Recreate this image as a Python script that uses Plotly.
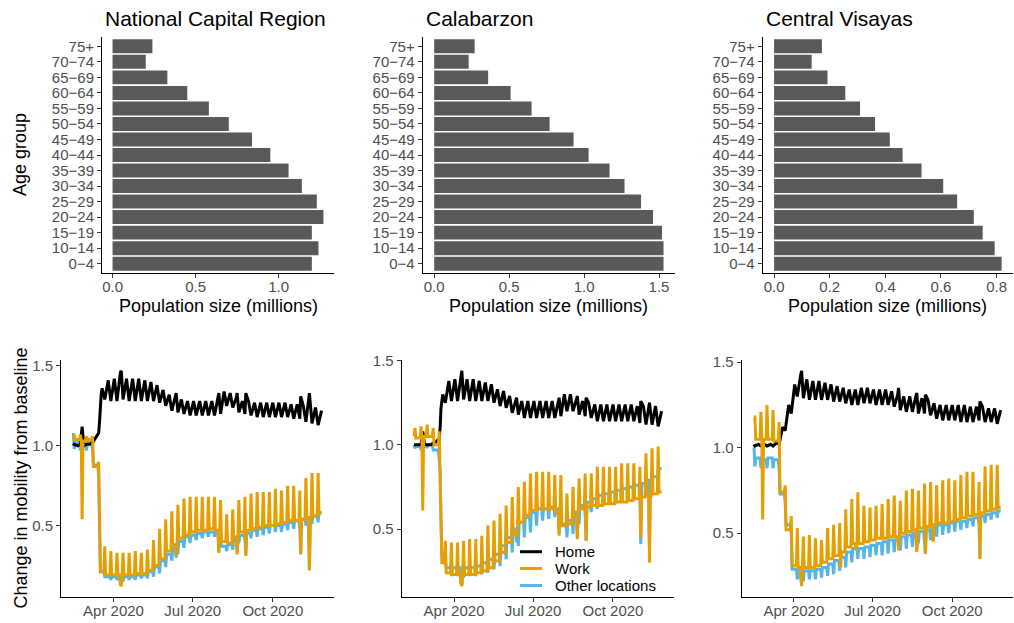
import pandas as pd
import plotly.graph_objects as go

# ---------------- population data (millions) ----------------
age_groups = ["0\u22124", "10\u221214", "15\u221219", "20\u221224", "25\u221229", "30\u221234",
              "35\u221239", "40\u221244", "45\u221249", "50\u221254", "55\u221259", "60\u221264",
              "65\u221269", "70\u221274", "75+"]
pop_ncr = [1.20, 1.24, 1.20, 1.27, 1.23, 1.14, 1.06, 0.95, 0.84, 0.70, 0.58, 0.45, 0.33, 0.20, 0.24]
pop_calabarzon = [1.53, 1.53, 1.52, 1.46, 1.38, 1.27, 1.17, 1.03, 0.93, 0.77, 0.65, 0.51, 0.36, 0.23, 0.27]
pop_cv = [0.818, 0.793, 0.750, 0.718, 0.658, 0.608, 0.530, 0.462, 0.416, 0.363, 0.309, 0.256, 0.192, 0.135, 0.172]

# ---------------- mobility data ----------------
# weekly levels: *_wd = weekday level of week k (week ending on Sunday k),
# *_sun = value on Sunday k; Sundays start 2020-02-16. Specials = single-day values.
first_sunday = "2020-02-16"
start_date = "2020-02-15"
end_date = "2020-11-26"

ncr_home_wd = [1.00,1.00,1.00,1.01,1.05,1.36,1.41,1.42,1.43,1.42,1.42,1.42,1.41,1.40,1.38,1.35,1.32,1.30,1.29,1.28,1.28,
               1.28,1.28,1.28,1.29,1.34,1.33,1.30,1.28,1.28,1.27,1.27,1.27,1.27,1.27,1.27,1.26,1.26,1.25,1.25,1.24,1.22]
ncr_home_sun = [1.01,1.01,1.01,1.02,1.08,1.29,1.28,1.28,1.29,1.28,1.28,1.28,1.28,1.28,1.27,1.25,1.22,1.21,1.20,1.19,1.19,
                1.19,1.19,1.19,1.20,1.25,1.24,1.21,1.20,1.19,1.18,1.18,1.18,1.18,1.18,1.18,1.17,1.17,1.15,1.14,1.13]
ncr_home_special = {"2020-02-25": 1.12, "2020-03-16": 1.15, "2020-03-17": 1.26, "2020-03-18": 1.33,
                    "2020-04-09": 1.46, "2020-04-10": 1.47, "2020-06-12": 1.33, "2020-07-31": 1.33,
                    "2020-08-21": 1.33, "2020-08-31": 1.33, "2020-11-02": 1.31, "2020-11-12": 1.33}
ncr_work_wd = [1.04,1.04,1.03,1.04,0.87,0.21,0.19,0.19,0.19,0.19,0.19,0.20,0.20,0.22,0.25,0.29,0.34,0.38,0.42,0.44,0.46,
               0.47,0.47,0.48,0.47,0.40,0.39,0.43,0.46,0.47,0.48,0.49,0.50,0.50,0.51,0.52,0.53,0.53,0.54,0.55,0.56,0.58]
ncr_work_sun = [1.07,1.07,1.06,1.06,0.90,0.37,0.34,0.33,0.33,0.33,0.34,0.33,0.35,0.41,0.48,0.54,0.59,0.63,0.67,0.68,0.68,
                0.68,0.68,0.68,0.66,0.57,0.60,0.66,0.68,0.70,0.71,0.71,0.71,0.73,0.72,0.75,0.75,0.72,0.80,0.83,0.83]
ncr_work_special = {"2020-02-25": 0.54, "2020-03-16": 0.55, "2020-04-09": 0.13, "2020-04-10": 0.12,
                    "2020-06-12": 0.31, "2020-07-31": 0.33, "2020-08-21": 0.32, "2020-08-31": 0.31,
                    "2020-11-02": 0.32, "2020-11-12": 0.22}
ncr_other_wd = [1.03,1.02,1.01,1.02,0.88,0.21,0.18,0.18,0.18,0.18,0.18,0.19,0.19,0.21,0.24,0.28,0.32,0.36,0.40,0.43,0.44,
                0.45,0.46,0.46,0.46,0.37,0.38,0.42,0.44,0.45,0.47,0.48,0.49,0.50,0.50,0.51,0.52,0.53,0.54,0.55,0.56,0.58]
ncr_other_sun = [0.98,0.97,0.97,0.97,0.82,0.18,0.16,0.16,0.15,0.16,0.16,0.17,0.17,0.18,0.20,0.24,0.28,0.32,0.36,0.39,0.41,
                 0.42,0.43,0.43,0.42,0.34,0.35,0.39,0.41,0.42,0.43,0.44,0.45,0.46,0.46,0.47,0.48,0.48,0.50,0.51,0.52]
ncr_other_special = {"2020-02-15": 1.08, "2020-03-16": 0.50, "2020-04-09": 0.14, "2020-04-10": 0.13,
                     "2020-06-12": 0.30, "2020-07-31": 0.33, "2020-08-21": 0.33, "2020-08-31": 0.32,
                     "2020-11-02": 0.32, "2020-11-12": 0.22}

cal_home_wd = [1.00,1.00,1.00,1.00,1.02,1.30,1.38,1.39,1.40,1.39,1.39,1.38,1.37,1.36,1.33,1.32,1.29,1.27,1.26,1.26,1.26,
               1.26,1.26,1.26,1.27,1.30,1.30,1.28,1.26,1.25,1.24,1.24,1.24,1.24,1.24,1.24,1.24,1.23,1.23,1.23,1.23,1.20]
cal_home_sun = [1.00,1.00,1.00,1.01,1.04,1.25,1.26,1.26,1.27,1.26,1.26,1.26,1.26,1.25,1.23,1.22,1.19,1.18,1.16,1.16,1.16,
                1.16,1.16,1.16,1.17,1.20,1.20,1.18,1.17,1.16,1.14,1.14,1.14,1.14,1.14,1.14,1.14,1.13,1.12,1.12,1.11]
cal_home_special = {"2020-02-25": 1.08, "2020-03-16": 1.10, "2020-03-17": 1.22, "2020-04-09": 1.43,
                    "2020-04-10": 1.44, "2020-06-12": 1.28, "2020-07-31": 1.28, "2020-08-21": 1.29,
                    "2020-08-31": 1.28, "2020-11-02": 1.26, "2020-11-12": 1.25}
cal_work_wd = [1.05,1.04,1.05,1.05,1.00,0.30,0.24,0.23,0.23,0.23,0.23,0.24,0.25,0.27,0.31,0.36,0.42,0.48,0.54,0.58,0.61,
               0.62,0.62,0.62,0.60,0.52,0.53,0.58,0.62,0.63,0.64,0.64,0.65,0.65,0.66,0.66,0.67,0.68,0.69,0.70,0.71,0.72]
cal_work_sun = [1.10,1.11,1.12,1.10,1.08,0.43,0.42,0.42,0.43,0.44,0.44,0.46,0.52,0.55,0.59,0.64,0.69,0.75,0.78,0.83,0.84,
                0.84,0.84,0.82,0.82,0.71,0.75,0.80,0.83,0.83,0.87,0.87,0.87,0.87,0.89,0.89,0.89,0.87,0.95,0.98,0.99]
cal_work_special = {"2020-02-25": 0.61, "2020-03-16": 0.80, "2020-03-17": 0.50, "2020-04-09": 0.18,
                    "2020-04-10": 0.16, "2020-06-12": 0.45, "2020-07-31": 0.46, "2020-08-21": 0.44,
                    "2020-08-31": 0.43, "2020-11-02": 0.45, "2020-11-12": 0.30}
cal_other_wd = [1.00,0.99,1.00,1.00,0.97,0.35,0.27,0.27,0.27,0.27,0.27,0.28,0.30,0.32,0.35,0.40,0.45,0.50,0.54,0.57,0.60,
                0.62,0.62,0.63,0.62,0.53,0.55,0.60,0.64,0.66,0.68,0.70,0.71,0.72,0.73,0.74,0.75,0.76,0.77,0.79,0.81,0.86]
cal_other_sun = [0.98,0.97,0.98,0.97,0.90,0.30,0.22,0.22,0.21,0.22,0.22,0.23,0.24,0.26,0.28,0.32,0.36,0.40,0.45,0.48,0.52,
                 0.55,0.56,0.57,0.55,0.45,0.47,0.53,0.58,0.60,0.62,0.64,0.65,0.66,0.67,0.68,0.69,0.69,0.70,0.72,0.75]
cal_other_special = {"2020-03-16": 0.85, "2020-03-17": 0.55, "2020-04-09": 0.18, "2020-04-10": 0.17,
                     "2020-06-12": 0.42, "2020-07-31": 0.47, "2020-08-21": 0.45, "2020-08-31": 0.43,
                     "2020-11-02": 0.41, "2020-11-12": 0.40}

cv_home_wd = [1.02,1.02,1.02,1.02,1.03,1.12,1.25,1.37,1.40,1.40,1.39,1.39,1.38,1.37,1.36,1.35,1.34,1.34,1.35,1.35,1.34,
              1.34,1.34,1.33,1.31,1.30,1.30,1.30,1.29,1.28,1.26,1.25,1.25,1.25,1.25,1.25,1.24,1.24,1.24,1.23,1.23,1.22]
cv_home_sun = [1.01,1.01,1.01,1.01,1.02,1.10,1.20,1.30,1.29,1.28,1.28,1.28,1.28,1.27,1.27,1.26,1.25,1.25,1.26,1.26,1.25,
               1.25,1.25,1.24,1.22,1.21,1.21,1.20,1.20,1.19,1.17,1.16,1.16,1.16,1.15,1.15,1.15,1.16,1.15,1.15,1.14]
cv_home_special = {"2020-04-09": 1.43, "2020-04-10": 1.45, "2020-07-31": 1.35, "2020-08-21": 1.32,
                   "2020-08-31": 1.31, "2020-11-02": 1.27}
cv_work_wd = [1.05,1.05,1.05,1.05,1.04,0.74,0.52,0.31,0.30,0.30,0.30,0.31,0.33,0.35,0.37,0.39,0.42,0.44,0.44,0.45,0.46,
              0.47,0.47,0.48,0.48,0.50,0.51,0.52,0.53,0.54,0.55,0.56,0.56,0.57,0.58,0.59,0.60,0.61,0.62,0.63,0.64,0.65]
cv_work_sun = [1.18,1.21,1.25,1.22,1.15,0.78,0.60,0.53,0.48,0.49,0.47,0.46,0.53,0.55,0.56,0.64,0.70,0.74,0.66,0.65,0.66,
               0.67,0.70,0.72,0.69,0.75,0.76,0.75,0.79,0.80,0.78,0.81,0.82,0.81,0.84,0.86,0.86,0.80,0.89,0.90,0.90]
cv_work_special = {"2020-02-15": 1.18, "2020-02-25": 0.58, "2020-04-09": 0.22, "2020-04-10": 0.19,
                   "2020-05-25": 0.30, "2020-06-12": 0.40, "2020-07-31": 0.40, "2020-08-21": 0.39,
                   "2020-08-31": 0.38, "2020-09-09": 0.45, "2020-11-02": 0.35}
cv_other_wd = [0.95,0.94,0.93,0.94,0.93,0.73,0.55,0.29,0.28,0.28,0.28,0.29,0.30,0.32,0.34,0.36,0.39,0.41,0.41,0.42,0.43,
               0.44,0.45,0.46,0.46,0.48,0.49,0.50,0.51,0.52,0.54,0.55,0.55,0.56,0.57,0.57,0.58,0.59,0.60,0.61,0.62,0.63]
cv_other_sun = [0.89,0.88,0.88,0.88,0.87,0.68,0.50,0.23,0.22,0.23,0.23,0.24,0.25,0.26,0.28,0.30,0.33,0.35,0.35,0.36,0.37,
                0.37,0.38,0.39,0.40,0.41,0.42,0.44,0.45,0.46,0.48,0.49,0.50,0.51,0.52,0.53,0.54,0.55,0.56,0.58,0.59]
cv_other_special = {"2020-02-15": 1.00, "2020-04-09": 0.22, "2020-04-10": 0.21, "2020-08-21": 0.40,
                    "2020-08-31": 0.38, "2020-11-02": 0.36}

regions = ["National Capital Region", "Calabarzon", "Central Visayas"]
populations = [pop_ncr, pop_calabarzon, pop_cv]
mobility = [
    {"Home": (ncr_home_wd, ncr_home_sun, ncr_home_special),
     "Work": (ncr_work_wd, ncr_work_sun, ncr_work_special),
     "Other locations": (ncr_other_wd, ncr_other_sun, ncr_other_special)},
    {"Home": (cal_home_wd, cal_home_sun, cal_home_special),
     "Work": (cal_work_wd, cal_work_sun, cal_work_special),
     "Other locations": (cal_other_wd, cal_other_sun, cal_other_special)},
    {"Home": (cv_home_wd, cv_home_sun, cv_home_special),
     "Work": (cv_work_wd, cv_work_sun, cv_work_special),
     "Other locations": (cv_other_wd, cv_other_sun, cv_other_special)},
]
series_names = ["Home", "Work", "Other locations"]
series_colors = {"Home": "#000000", "Work": "#E69F00", "Other locations": "#56B4E9"}
# weekday level placed at midweek only (zig-zag) for Home; Mon..Sat plateau for the others
series_mode = {"Home": "wave", "Work": "plateau", "Other locations": "plateau"}
draw_order = ["Other locations", "Home", "Work"]
LINE_W = 3


def build_series(wd, sun, special, mode):
    s0 = pd.Timestamp(first_sunday)
    start = pd.Timestamp(start_date)
    end = pd.Timestamp(end_date)
    day = pd.Timedelta(days=1)
    pts = {start: wd[0], end: wd[-1]}
    for k, v in enumerate(wd):
        sunday = s0 + pd.Timedelta(days=7 * k)
        if mode == "plateau":
            days = [sunday - 6 * day, sunday - day]
        else:
            days = [sunday - 3 * day]
        for d in days:
            if start <= d <= end:
                pts[d] = v
        if k < len(sun) and sunday <= end:
            pts[sunday] = sun[k]

    def level(d):
        k = (d - (s0 - 6 * day)).days // 7
        if d.dayofweek == 6 and k < len(sun):
            return sun[k]
        return wd[k]

    sp = {pd.Timestamp(d): v for d, v in special.items()}
    for d in sp:
        for nb in (d - day, d + day):
            if nb not in sp and start <= nb <= end and (mode == "plateau" or nb in pts):
                pts[nb] = level(nb)
    pts.update(sp)
    xs = sorted(pts)
    return xs, [pts[x] for x in xs]


W, H = 1014, 623
FONT = "Liberation Sans, Arial, Helvetica, sans-serif"
TICK_COLOR = "#4D4D4D"

top_x_px = [(102, 334), (422.7, 675), (762.7, 1013)]
top_y_px = (37, 273)
bot_x_px = [(61, 334), (401.7, 674), (741.7, 1013)]
bot_y_px = (360, 597)


def xdom(a, b):
    return [a / W, b / W]


def ydom(top, bottom):
    return [1 - bottom / H, 1 - top / H]


fig = go.Figure()
layout = dict(
    width=W, height=H,
    margin=dict(l=0, r=0, t=0, b=0),
    paper_bgcolor="white", plot_bgcolor="white",
    font=dict(family=FONT, color="black"),
    showlegend=False,
    annotations=[], shapes=[],
)

axis_common = dict(showgrid=False, zeroline=False, showline=True, linecolor="black", linewidth=1,
                   ticks="outside", ticklen=4, tickwidth=1, tickcolor="#333333",
                   tickfont=dict(size=15, color=TICK_COLOR, family=FONT))

for i, (region, pop) in enumerate(zip(regions, populations)):
    # --- top: population bars ---
    xa = f"x{2*i+1}"
    ya = f"y{2*i+1}"
    fig.add_trace(go.Bar(x=pop, y=age_groups, orientation="h", width=0.9,
                         marker=dict(color="#595959", line=dict(width=0)),
                         xaxis=xa, yaxis=ya, showlegend=False))
    pmax = max(pop)
    step = 0.2 if pmax < 1 else 0.5
    ticks = [round(step * j, 1) for j in range(int(pmax / step) + 1)]
    layout[f"xaxis{2*i+1}"] = dict(axis_common, domain=xdom(*top_x_px[i]), anchor=ya,
                                   range=[-0.05 * pmax, 1.05 * pmax], tickvals=ticks, tickformat=".1f",
                                   ticklabelstandoff=-4)
    layout[f"yaxis{2*i+1}"] = dict(axis_common, domain=ydom(*top_y_px), anchor=xa,
                                   type="category", categoryorder="array", categoryarray=age_groups,
                                   tickmode="array", tickvals=age_groups, ticktext=age_groups,
                                   range=[-0.6, len(age_groups) - 0.4])
    layout["annotations"].append(dict(text=region, x=(top_x_px[i][0] + 1) / W, y=1 - 18 / H,
                                      xref="paper", yref="paper", xanchor="left", yanchor="middle",
                                      showarrow=False, font=dict(size=21, color="black", family=FONT)))
    layout["annotations"].append(dict(text="Population size (millions)",
                                      x=(top_x_px[i][0] + top_x_px[i][1]) / 2 / W, y=1 - 306 / H,
                                      xref="paper", yref="paper", xanchor="center", yanchor="middle",
                                      showarrow=False, font=dict(size=18, color="black", family=FONT)))

    # --- bottom: mobility lines ---
    xb = f"x{2*i+2}"
    yb = f"y{2*i+2}"
    allv = []
    for name in draw_order:
        wd, sun, sp = mobility[i][name]
        xs, ys = build_series(wd, sun, sp, series_mode[name])
        allv += ys
        fig.add_trace(go.Scatter(x=xs, y=ys, mode="lines", name=name,
                                 line=dict(color=series_colors[name], width=LINE_W),
                                 xaxis=xb, yaxis=yb, showlegend=False))
    lo, hi = min(allv), max(allv)
    pad = 0.05 * (hi - lo)
    layout[f"xaxis{2*i+2}"] = dict(axis_common, domain=xdom(*bot_x_px[i]), anchor=yb, type="date",
                                   range=["2020-01-31 18:00", "2020-12-10 06:00"],
                                   tickvals=["2020-04-01", "2020-07-01", "2020-10-01"],
                                   ticktext=["Apr 2020", "Jul 2020", "Oct 2020"],
                                   ticklabelstandoff=-4)
    layout[f"yaxis{2*i+2}"] = dict(axis_common, domain=ydom(*bot_y_px), anchor=xb,
                                   range=[lo - pad, hi + pad], tickvals=[0.5, 1.0, 1.5], tickformat=".1f")

# legend (inside the Calabarzon mobility panel)
leg_y = [551.7, 568.5, 585.5]
for name, yy in zip(series_names, leg_y):
    layout["shapes"].append(dict(type="line", xref="paper", yref="paper",
                                 x0=520 / W, x1=542 / W, y0=1 - yy / H, y1=1 - yy / H,
                                 line=dict(color=series_colors[name], width=LINE_W)))
    layout["annotations"].append(dict(text=name, x=553 / W, y=1 - yy / H, xref="paper", yref="paper",
                                      xanchor="left", yanchor="middle", showarrow=False,
                                      font=dict(size=15, color="black", family=FONT)))

layout["annotations"].append(dict(text="Age group", x=20 / W, y=1 - 155 / H, xref="paper", yref="paper",
                                  textangle=-90, xanchor="center", yanchor="middle", showarrow=False,
                                  font=dict(size=18, color="black", family=FONT)))
layout["annotations"].append(dict(text="Change in mobility from baseline", x=20 / W, y=1 - 478.5 / H,
                                  xref="paper", yref="paper", textangle=-90, xanchor="center",
                                  yanchor="middle", showarrow=False,
                                  font=dict(size=18, color="black", family=FONT)))

fig.update_layout(template="none")
fig.update_layout(**layout)
fig.write_html("out.html")
